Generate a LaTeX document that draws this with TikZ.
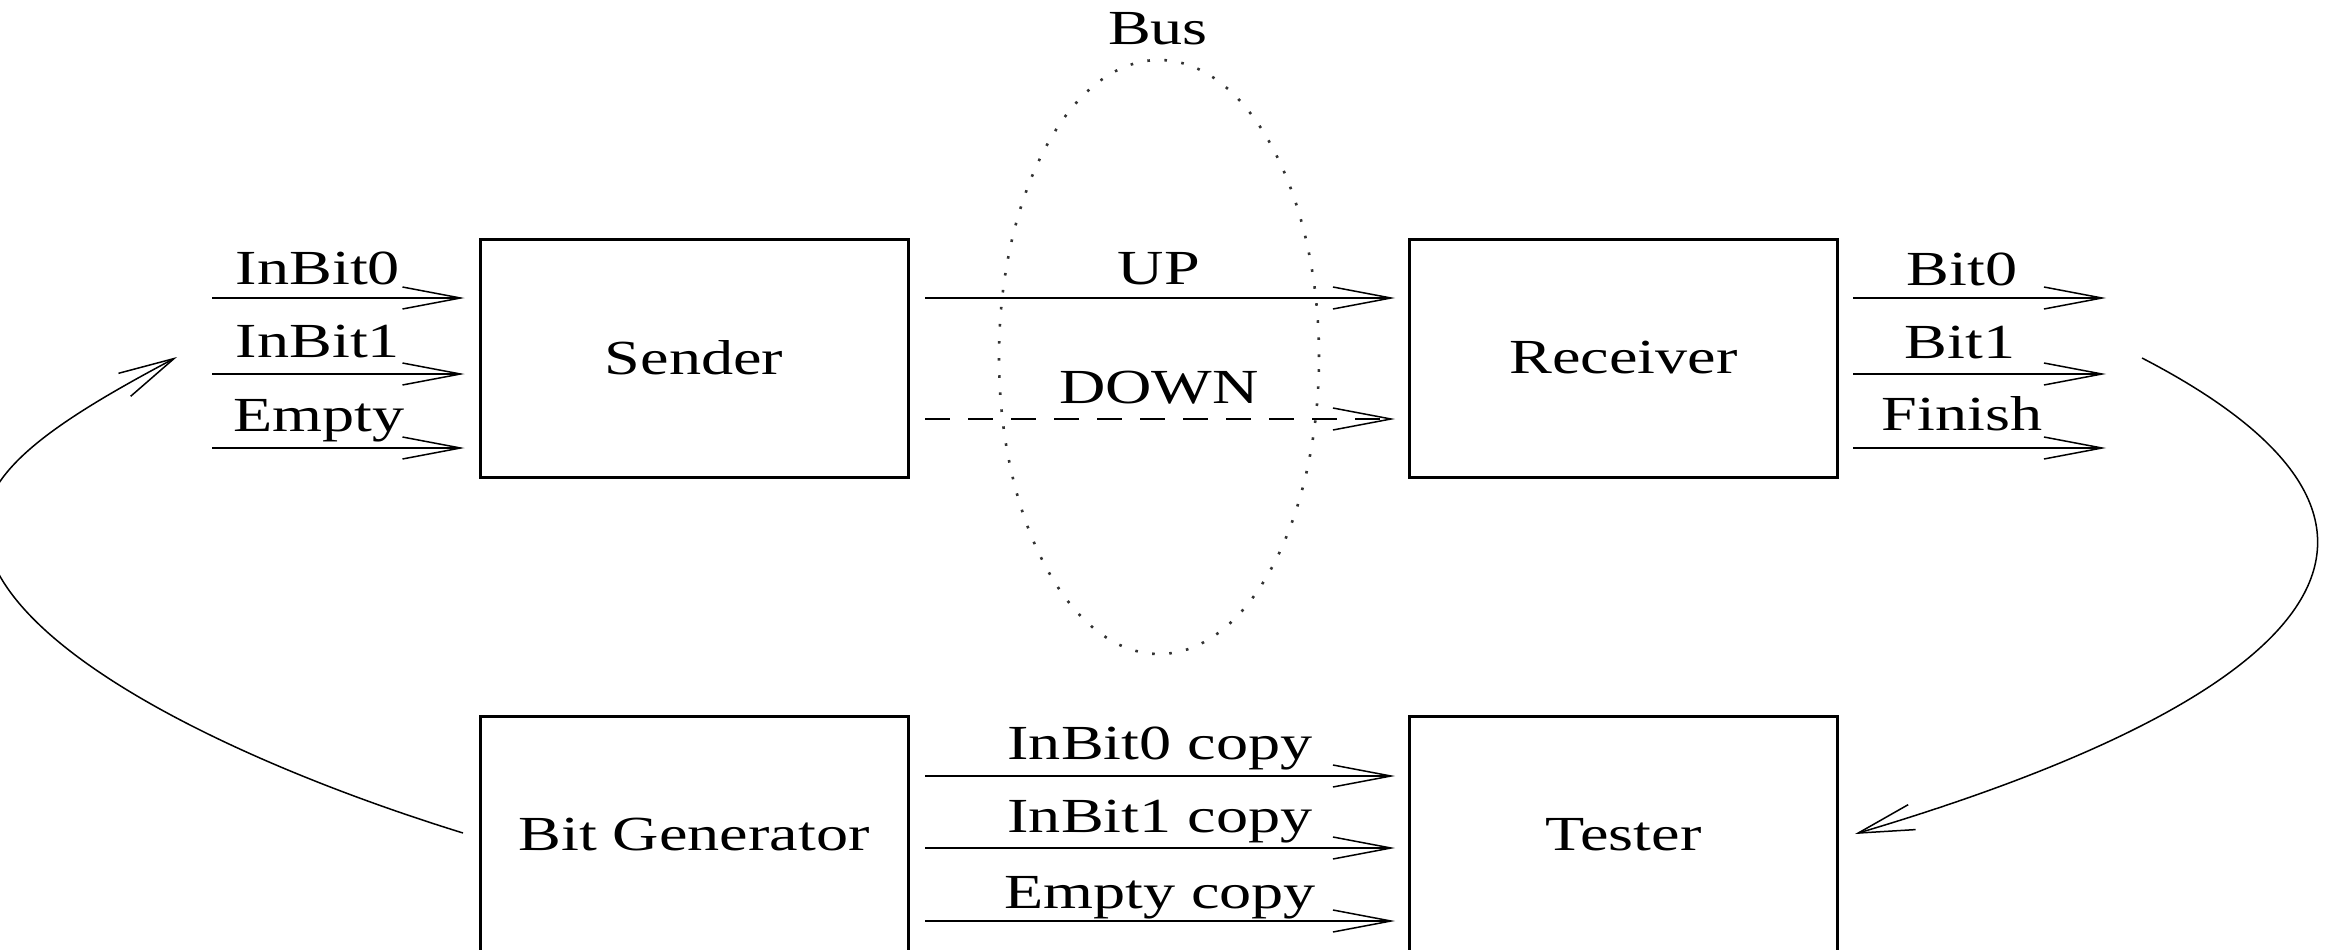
\documentclass[tikz,border=0pt]{standalone}
\usepackage{fontspec}
\setmainfont{Liberation Serif}[FakeStretch=1.31]
\usetikzlibrary{arrows.meta,shapes.geometric}
\tikzset{
  box/.style={draw,line width=3pt,minimum width=428pt,minimum height=238pt,inner sep=0pt,font=\fontsize{49}{58}\selectfont},
  lbl/.style={anchor=base,inner sep=0pt,font=\fontsize{49}{58}\selectfont},
  sig/.style={line width=2pt,-{Straight Barb[length=58pt,width=22pt,line width=1.5pt]}},
  loopline/.style={line width=1.5pt,-{Straight Barb[length=56pt,width=26pt,line width=1.5pt]}},
  busring/.style={draw,ellipse,line width=2.6pt,black!80,dash pattern=on 2.6pt off 14.5pt,minimum width=320pt,minimum height=594pt,inner sep=0pt}
}
\begin{document}
\begin{tikzpicture}[x=1pt,y=-1pt]
\useasboundingbox (0,0) rectangle (2330,950);
\clip (0,0) rectangle (2330,950);

% boxes
\node[box] (snd) at (694,358) {Sender};
\node[box] (rcv) at (1623.5,358) {Receiver};
\node[box] (gen) at (694,835) {Bit Generator};
\node[box] (tst) at (1623.5,835) {Tester};

% bus
\node[busring] (bus) at (1159,357) {};
\node[lbl] (lbus) at (1158,45) {Bus};

% level coordinates
\coordinate (i0) at (212,298);
\coordinate (i1) at (212,374);
\coordinate (i2) at (212,448);
\coordinate (ydn) at (0,419);
\coordinate (o0) at (2106,298);
\coordinate (o1) at (2106,374);
\coordinate (o2) at (2106,448);
\coordinate (c0) at (0,776);
\coordinate (c1) at (0,848);
\coordinate (c2) at (0,921);

% inputs to sender
\draw[sig,shorten >=14pt] (i0) -- (i0 -| snd.west);
\draw[sig,shorten >=14pt] (i1) -- (i1 -| snd.west);
\draw[sig,shorten >=14pt] (i2) -- (i2 -| snd.west);
\node[lbl] (lin0) at (318,284) {InBit0};
\node[lbl] (lin1) at (318,357) {InBit1};
\node[lbl] (lemp) at (319,431) {Empty};

% bus lines
\draw[sig,shorten <=15.5pt,shorten >=13pt] (snd.east |- i0) -- (rcv.west |- i0);
\draw[sig,dash pattern=on 25pt off 18pt,shorten <=15.5pt,shorten >=13pt] (snd.east |- ydn) -- (rcv.west |- ydn);
\node[lbl] (lup) at (1159,284) {UP};
\node[lbl] (ldn) at (1159,403) {DOWN};

% receiver outputs
\draw[sig,shorten <=14pt] (rcv.east |- o0) -- (o0);
\draw[sig,shorten <=14pt] (rcv.east |- o1) -- (o1);
\draw[sig,shorten <=14pt] (rcv.east |- o2) -- (o2);
\node[lbl] (lb0) at (1962,285) {Bit0};
\node[lbl] (lb1) at (1960,358) {Bit1};
\node[lbl] (lfin) at (1962,430) {Finish};

% generator to tester
\draw[sig,shorten <=15.5pt,shorten >=13pt] (gen.east |- c0) -- (tst.west |- c0);
\draw[sig,shorten <=15.5pt,shorten >=13pt] (gen.east |- c1) -- (tst.west |- c1);
\draw[sig,shorten <=15.5pt,shorten >=13pt] (gen.east |- c2) -- (tst.west |- c2);
\node[lbl] (lc0) at (1160,759) {InBit0 copy};
\node[lbl] (lc1) at (1160,832) {InBit1 copy};
\node[lbl] (lc2) at (1160,908) {Empty copy};

% feedback curves
\coordinate (rs) at (2142,358);
\coordinate (rt) at (1855,834);
\draw[loopline] (rs) .. controls (2480,533) and (2300,702) .. (rt);

\coordinate (ls) at (463,833);
\coordinate (lm) at (-15,525);
\coordinate (lt) at (177,357);
\draw[loopline] (ls) .. controls (224,759) and (-15,640) .. (lm) .. controls (-15,468) and (62,418) .. (lt);
\end{tikzpicture}
\end{document}
